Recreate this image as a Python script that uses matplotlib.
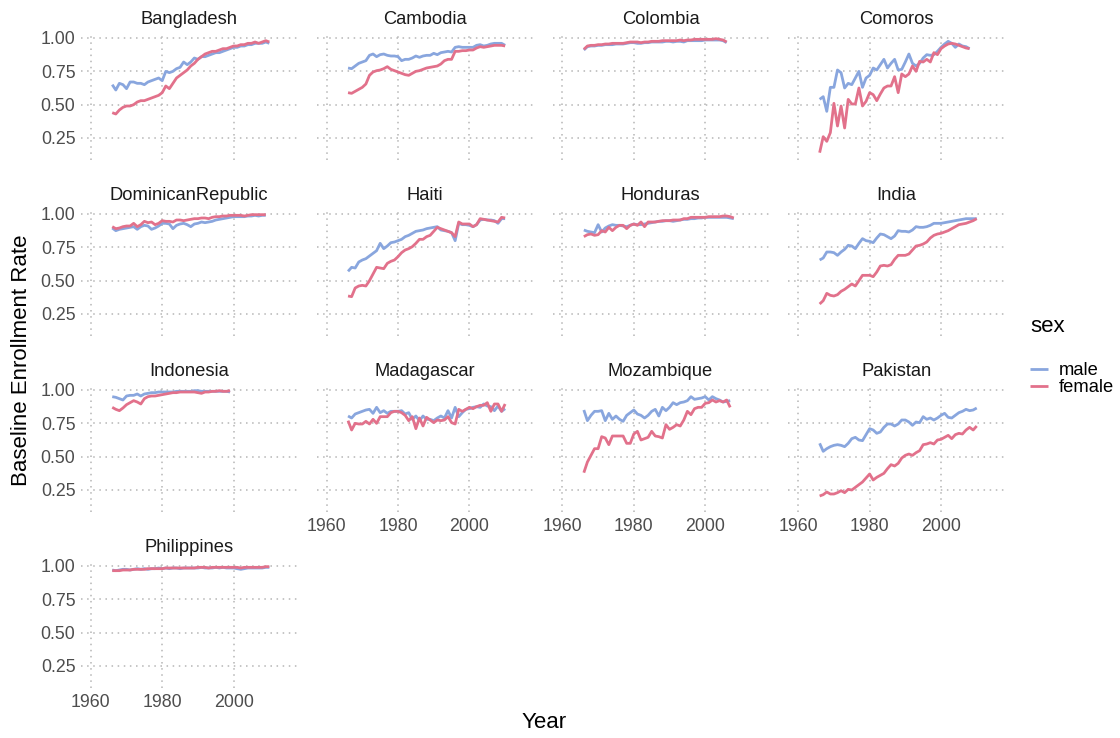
import matplotlib
matplotlib.use("Agg")
import matplotlib.pyplot as plt

plt.rcParams["font.family"] = ["Liberation Sans", "DejaVu Sans"]

# ---- data: baseline enrollment rate by country and sex (yearly, from start year) ----
countries = ["Bangladesh", "Cambodia", "Colombia", "Comoros",
             "DominicanRepublic", "Haiti", "Honduras", "India",
             "Indonesia", "Madagascar", "Mozambique", "Pakistan",
             "Philippines"]
start_year = 1966

bangladesh_male = [.65, .61, .66, .65, .62, .67, .67, .66, .66, .65,
                   .67, .68, .69, .70, .68, .75, .74, .75, .77, .78,
                   .82, .80, .82, .85, .84, .86, .86, .87, .88, .89,
                   .89, .90, .91, .92, .93, .93, .94, .94, .95, .95,
                   .96, .96, .96, .97, .96]
bangladesh_female = [.44, .43, .46, .48, .49, .49, .50, .52, .53, .53,
                     .54, .55, .56, .57, .59, .64, .62, .66, .70, .72,
                     .74, .76, .79, .81, .84, .86, .88, .89, .90, .90,
                     .91, .92, .92, .93, .94, .94, .95, .95, .96, .96,
                     .97, .96, .97, .98, .97]

cambodia_male = [.775, .77, .79, .81, .82, .83, .87, .88, .86, .875,
                 .88, .87, .865, .865, .86, .83, .84, .84, .85, .865,
                 .855, .865, .87, .87, .885, .875, .89, .895, .90, .895,
                 .93, .935, .93, .93, .93, .93, .945, .95, .94, .945,
                 .955, .96, .96, .96, .945]
cambodia_female = [.59, .585, .60, .615, .63, .655, .72, .745, .755, .76,
                   .77, .785, .765, .755, .745, .735, .725, .72, .735, .75,
                   .755, .765, .775, .78, .785, .79, .805, .83, .84, .84,
                   .90, .90, .905, .905, .91, .91, .925, .935, .93, .935,
                   .94, .945, .945, .945, .94]

colombia_male = [.91, .935, .94, .94, .945, .945, .95, .95, .95, .955,
                 .955, .955, .96, .965, .965, .96, .96, .965, .965, .97,
                 .97, .97, .97, .975, .975, .97, .975, .975, .97, .98,
                 .98, .98, .98, .98, .985, .985, .985, .985, .985, .98,
                 .965]
colombia_female = [.915, .94, .945, .945, .95, .95, .955, .955, .96, .96,
                   .96, .96, .965, .97, .97, .97, .965, .97, .97, .975,
                   .975, .975, .98, .98, .98, .98, .98, .985, .98, .985,
                   .985, .99, .99, .99, .99, .99, .99, .995, .99, .985,
                   .97]

comoros_male = [.54, .56, .45, .63, .63, .76, .74, .625, .66, .65,
                .70, .75, .63, .70, .72, .775, .76, .80, .84, .775,
                .81, .84, .76, .765, .82, .88, .81, .79, .81, .85,
                .875, .87, .875, .90, .93, .955, .975, .96, .93, .955,
                .94, .935, .92]
comoros_female = [.14, .26, .225, .29, .51, .34, .49, .325, .54, .505,
                  .505, .625, .49, .525, .59, .575, .53, .58, .625, .64,
                  .64, .71, .59, .73, .71, .73, .79, .75, .825, .82,
                  .84, .82, .89, .875, .92, .94, .955, .96, .955, .945,
                  .935, .925, .92]

dominican_male = [.895, .875, .885, .89, .895, .90, .905, .885, .905, .915,
                  .91, .885, .895, .91, .93, .93, .925, .89, .915, .925,
                  .93, .92, .905, .925, .93, .94, .935, .94, .945, .955,
                  .96, .965, .97, .975, .98, .98, .98, .98, .985, .985,
                  .99, .985, .99, .99]
dominican_female = [.905, .89, .895, .905, .91, .91, .93, .905, .92, .945,
                    .935, .94, .92, .93, .95, .945, .945, .94, .955, .955,
                    .95, .955, .96, .965, .965, .97, .97, .965, .975, .98,
                    .98, .985, .985, .99, .99, .99, .99, .985, .99, .995,
                    .995, .995, .995, .995]

haiti_male = [.57, .60, .595, .64, .655, .665, .685, .705, .725, .78,
              .74, .76, .785, .79, .80, .81, .83, .84, .855, .87,
              .875, .88, .89, .895, .90, .905, .88, .875, .87, .86,
              .80, .93, .92, .92, .915, .905, .92, .955, .96, .955,
              .955, .95, .93, .965, .965]
haiti_female = [.385, .38, .445, .46, .465, .46, .50, .55, .60, .595,
                .59, .63, .645, .655, .68, .71, .73, .74, .755, .78,
                .81, .81, .83, .84, .87, .90, .89, .88, .87, .86,
                .83, .94, .925, .925, .925, .905, .92, .965, .96, .955,
                .95, .945, .94, .975, .97]

honduras_male = [.88, .87, .865, .86, .92, .865, .895, .91, .92, .915,
                 .915, .91, .905, .915, .925, .92, .92, .925, .93, .935,
                 .94, .945, .945, .95, .95, .945, .95, .955, .96, .96,
                 .965, .965, .97, .97, .975, .975, .975, .975, .975, .975,
                 .975, .97, .965]
honduras_female = [.83, .845, .85, .84, .845, .875, .865, .90, .875, .90,
                   .915, .915, .89, .915, .925, .915, .94, .905, .94, .94,
                   .94, .945, .95, .95, .95, .955, .955, .955, .965, .965,
                   .975, .975, .975, .975, .975, .98, .98, .98, .98, .985,
                   .985, .98, .97]

india_male = [.655, .67, .715, .715, .71, .69, .715, .735, .765, .76,
              .74, .78, .815, .80, .795, .785, .82, .85, .845, .83,
              .815, .835, .875, .87, .87, .865, .88, .905, .90, .90,
              .905, .915, .93, .93, .93, .935, .94, .945, .95, .955,
              .96, .965, .965, .965, .965]
india_female = [.325, .35, .405, .39, .385, .395, .42, .435, .455, .475,
                .46, .50, .54, .54, .54, .53, .565, .61, .615, .61,
                .62, .66, .69, .69, .69, .70, .73, .76, .765, .775,
                .79, .82, .84, .85, .855, .865, .875, .89, .905, .92,
                .925, .93, .94, .95, .965]

indonesia_male = [.95, .945, .935, .925, .955, .96, .96, .97, .955, .97,
                  .975, .98, .98, .985, .985, .985, .985, .985, .99, .99,
                  .99, .99, .99, .995, .995, .99, .99, .99, .99, .99,
                  .99, .99, .99, .985]
indonesia_female = [.87, .855, .845, .865, .89, .905, .92, .91, .895, .935,
                    .95, .955, .955, .96, .965, .97, .975, .98, .98, .985,
                    .985, .985, .985, .985, .98, .975, .985, .985, .99, .99,
                    .995, .99, .99, .995]

madagascar_male = [.805, .79, .82, .83, .84, .85, .855, .825, .87, .83,
                   .845, .825, .84, .84, .84, .845, .82, .83, .78, .805,
                   .77, .805, .78, .78, .77, .79, .805, .79, .845, .79,
                   .87, .80, .83, .855, .86, .87, .875, .87, .895, .88,
                   .875, .845, .88, .84, .86]
madagascar_female = [.77, .70, .75, .745, .745, .765, .745, .78, .75, .80,
                     .80, .80, .83, .84, .84, .83, .81, .77, .80, .71,
                     .79, .73, .795, .775, .755, .775, .77, .775, .80, .755,
                     .745, .855, .84, .855, .87, .86, .875, .885, .885, .905,
                     .84, .895, .895, .84, .895]

mozambique_male = [.85, .77, .81, .84, .84, .845, .77, .825, .78, .805,
                   .78, .765, .81, .83, .85, .82, .81, .79, .81, .84,
                   .855, .805, .87, .845, .87, .905, .89, .905, .91, .92,
                   .95, .93, .935, .94, .95, .925, .95, .935, .925, .91,
                   .915, .92]
mozambique_female = [.38, .46, .51, .56, .56, .65, .64, .59, .655, .655,
                     .655, .655, .60, .60, .67, .69, .625, .635, .645, .69,
                     .655, .65, .64, .74, .705, .72, .74, .73, .775, .84,
                     .815, .86, .87, .87, .90, .905, .925, .91, .92, .91,
                     .925, .87]

pakistan_male = [.60, .54, .56, .575, .585, .59, .585, .575, .60, .635,
                 .645, .625, .62, .665, .71, .70, .675, .685, .72, .745,
                 .745, .73, .745, .775, .775, .76, .735, .76, .755, .80,
                 .78, .79, .775, .79, .81, .825, .795, .79, .81, .83,
                 .84, .855, .845, .85, .865]
pakistan_female = [.205, .215, .235, .22, .22, .23, .245, .23, .255, .25,
                   .27, .29, .31, .34, .37, .325, .345, .36, .375, .41,
                   .44, .43, .45, .49, .51, .52, .51, .53, .545, .59,
                   .595, .605, .595, .625, .63, .645, .66, .635, .665, .675,
                   .67, .70, .72, .70, .73]

philippines_male = [.97, .965, .97, .975, .975, .97, .975, .98, .975, .98,
                    .975, .98, .98, .985, .98, .985, .98, .985, .985, .98,
                    .985, .985, .985, .985, .985, .99, .985, .985, .985, .99,
                    .985, .99, .985, .985, .985, .98, .975, .98, .985, .985,
                    .985, .985, .985, .99, .99]
philippines_female = [.965, .965, .965, .97, .97, .97, .975, .975, .975, .975,
                      .98, .98, .98, .98, .98, .985, .985, .985, .985, .985,
                      .985, .985, .985, .985, .99, .99, .99, .985, .99, .99,
                      .99, .99, .99, .99, .99, .99, .985, .99, .99, .99,
                      .99, .99, .99, .995, .995]

male_series = [bangladesh_male, cambodia_male, colombia_male, comoros_male,
               dominican_male, haiti_male, honduras_male, india_male,
               indonesia_male, madagascar_male, mozambique_male, pakistan_male,
               philippines_male]
female_series = [bangladesh_female, cambodia_female, colombia_female, comoros_female,
                 dominican_female, haiti_female, honduras_female, india_female,
                 indonesia_female, madagascar_female, mozambique_female, pakistan_female,
                 philippines_female]

x_ticks = [1960, 1980, 2000]
y_ticks = [0.25, 0.50, 0.75, 1.00]
sex_labels = ["male", "female"]

# ---- style ----
male_color = "#89a6de"
female_color = "#e2718b"
grid_color = "#b5b5b5"
tick_color = "#4d4d4d"
line_w = 2.0

W, H = 1120, 738
fig = plt.figure(figsize=(W / 100, H / 100), dpi=100)

ncol = 4
panel_w, panel_h = 216, 128
col_x = [81 + i * 235.8 for i in range(ncol)]
row_y = [32 + i * 176 for i in range(4)]
n = len(countries)

handles = []
for i, name in enumerate(countries):
    r, c = divmod(i, ncol)
    left = col_x[c] / W
    bottom = 1 - (row_y[r] + panel_h) / H
    ax = fig.add_axes([left, bottom, panel_w / W, panel_h / H])

    m = male_series[i]
    f = female_series[i]
    years_m = [start_year + k for k in range(len(m))]
    years_f = [start_year + k for k in range(len(f))]
    lm, = ax.plot(years_m, m, color=male_color, lw=line_w, solid_joinstyle="round",
                  solid_capstyle="butt", zorder=3)
    lf, = ax.plot(years_f, f, color=female_color, lw=line_w, solid_joinstyle="round",
                  solid_capstyle="butt", zorder=4)
    if i == 0:
        handles = [lm, lf]

    ax.set_xlim(1957.25, 2017.75)
    ax.set_ylim(0.085, 1.045)
    ax.set_xticks(x_ticks)
    ax.set_yticks(y_ticks)
    ax.grid(True, color=grid_color, linestyle=(0, (1, 3)), linewidth=1.1, zorder=0)
    ax.set_axisbelow(True)
    for s in ax.spines.values():
        s.set_visible(False)
    ax.tick_params(length=0, labelsize=12.8, colors=tick_color, pad=4)

    # y labels only in the first column
    if c == 0:
        ax.set_yticklabels([f"{v:.2f}" for v in y_ticks])
    else:
        ax.set_yticklabels([])
    # x labels only on the bottom panel of each column
    if i + ncol >= n:
        ax.set_xticklabels([str(v) for v in x_ticks])
    else:
        ax.set_xticklabels([])

    ax.set_title(name, fontsize=13.2, color="#1a1a1a", pad=6)

fig.text(544 / W, 1 - 722 / H, "Year", ha="center", va="center", fontsize=16)
fig.text(22 / W, 1 - 360 / H, "Baseline Enrollment Rate", ha="center", va="center",
         rotation=90, fontsize=16)

# legend: title placed above the keys with a ggplot-like gap
fig.text(1030 / W, 1 - 326 / H, "sex", ha="left", va="center", fontsize=16)
fig.legend(handles, sex_labels, loc="upper left",
           bbox_to_anchor=(1030 / W, 1 - 362 / H), frameon=False,
           fontsize=13.2, handlelength=1.0, handletextpad=0.55,
           labelspacing=0.0, borderpad=0, borderaxespad=0)

fig.savefig("out.png", dpi=100)
